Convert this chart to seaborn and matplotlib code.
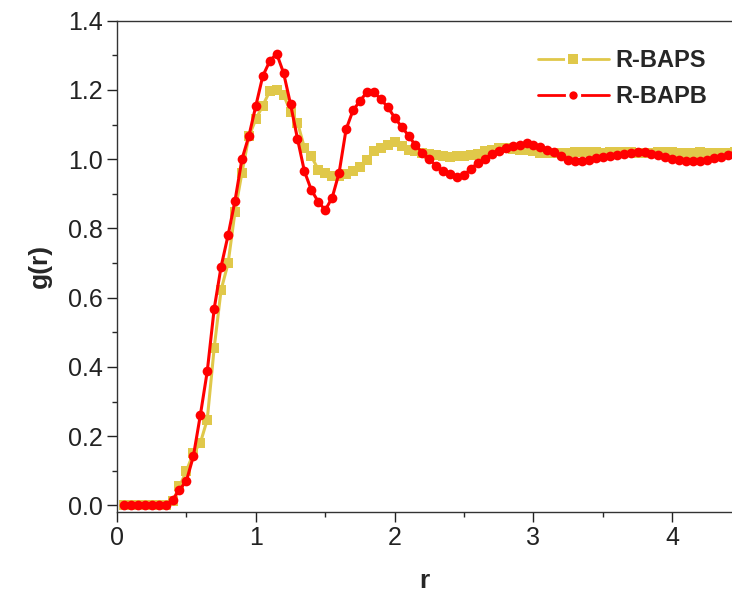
import numpy as np
import pandas as pd
import matplotlib
matplotlib.use("Agg")
import matplotlib.pyplot as plt
import seaborn as sns
from matplotlib.lines import Line2D
from matplotlib.legend_handler import HandlerTuple
from matplotlib.ticker import MultipleLocator, FormatStrFormatter

# ---- data ----
r = np.round(np.arange(0.05, 4.451, 0.05), 2)

g_baps = [0.0, 0.0, 0.0, 0.0, 0.0, 0.0, 0.0,
          0.012, 0.055, 0.100, 0.151, 0.180, 0.248, 0.455, 0.623, 0.699,
          0.848, 0.961, 1.066, 1.115, 1.155, 1.196, 1.200, 1.186, 1.137,
          1.106, 1.033, 1.008, 0.970, 0.960, 0.952, 0.951, 0.956, 0.965,
          0.977, 0.999, 1.023, 1.033, 1.042, 1.050, 1.038, 1.028, 1.023,
          1.019, 1.016, 1.013, 1.009, 1.006, 1.009, 1.010, 1.012, 1.016,
          1.023, 1.028, 1.033, 1.033, 1.030, 1.028, 1.026, 1.023, 1.019,
          1.017, 1.017, 1.018, 1.019, 1.021, 1.022, 1.021, 1.020, 1.019,
          1.020, 1.022, 1.021, 1.020, 1.019, 1.018, 1.019, 1.020, 1.021,
          1.020, 1.019, 1.018, 1.019, 1.020, 1.019, 1.018, 1.018, 1.019,
          1.020]

g_bapb = [0.0, 0.0, 0.0, 0.0, 0.0, 0.0, 0.0,
          0.016, 0.045, 0.071, 0.142, 0.260, 0.387, 0.568, 0.690, 0.780,
          0.880, 1.000, 1.067, 1.154, 1.240, 1.283, 1.305, 1.249, 1.159,
          1.059, 0.965, 0.911, 0.877, 0.853, 0.889, 0.961, 1.086, 1.141,
          1.168, 1.194, 1.194, 1.173, 1.151, 1.120, 1.094, 1.068, 1.040,
          1.019, 1.001, 0.980, 0.965, 0.956, 0.949, 0.955, 0.972, 0.990,
          1.000, 1.016, 1.025, 1.033, 1.038, 1.042, 1.047, 1.042, 1.036,
          1.028, 1.020, 1.008, 0.999, 0.994, 0.996, 0.999, 1.003, 1.006,
          1.009, 1.012, 1.015, 1.018, 1.021, 1.021, 1.016, 1.011, 1.006,
          1.001, 0.998, 0.996, 0.995, 0.996, 0.999, 1.003, 1.007, 1.011,
          1.014]

labels = ["R-BAPS", "R-BAPB"]
colors = ["#E0C84A", "#FF0000"]

# ---- style ----
sns.set_theme(style="ticks")
plt.rcParams["font.family"] = ["Liberation Sans", "DejaVu Sans"]
plt.rcParams["axes.linewidth"] = 1.0

fig = plt.figure(figsize=(7.32, 6.02), dpi=100)
ax = fig.add_axes([117 / 732, 1 - 511.7 / 602, 1 - 117 / 732, (511.7 - 20.7) / 602])

sns.lineplot(x=r, y=g_baps, ax=ax, color=colors[0], marker="s", markersize=6.5,
             markeredgewidth=0, linewidth=2.2, sort=False)
sns.lineplot(x=r, y=g_bapb, ax=ax, color=colors[1], marker="o", markersize=7,
             markeredgewidth=0, linewidth=2.2, sort=False)

ax.set_xlim(0, 4.43)
ax.set_ylim(-0.018, 1.4)
ax.xaxis.set_major_locator(MultipleLocator(1))
ax.xaxis.set_minor_locator(MultipleLocator(0.5))
ax.yaxis.set_major_locator(MultipleLocator(0.2))
ax.yaxis.set_minor_locator(MultipleLocator(0.1))
ax.yaxis.set_major_formatter(FormatStrFormatter("%.1f"))
ax.tick_params(which="major", direction="out", length=7, width=1.0,
               labelsize=18, colors="#222222", pad=3)
ax.tick_params(which="minor", direction="out", length=3.5, width=1.0)
ax.spines["right"].set_visible(False)
ax.spines["top"].set_visible(True)
for s in ["left", "bottom", "top"]:
    ax.spines[s].set_color("#333333")

ax.set_xlabel("r", fontsize=19, fontweight="bold", labelpad=14)
ax.set_ylabel("g(r)", fontsize=19, fontweight="bold", labelpad=12)

handles = []
for c, m, ms in zip(colors, ["s", "o"], [6.5, 6.0]):
    line_h = Line2D([], [], color=c, linewidth=2.0, linestyle="-")
    mark_h = Line2D([], [], color=c, marker=m, markersize=ms, linestyle="none",
                    markeredgecolor="white", markeredgewidth=5.0)
    mark_h2 = Line2D([], [], color=c, marker=m, markersize=ms, linestyle="none",
                     markeredgewidth=0)
    handles.append((line_h, mark_h, mark_h2))
ax.legend(handles, labels, loc="upper right", bbox_to_anchor=(0.995, 0.985),
          frameon=False, prop={"size": 17, "weight": "bold"},
          handlelength=3.0, handletextpad=0.3, labelspacing=0.55, numpoints=1,
          handler_map={tuple: HandlerTuple(ndivide=1)})

fig.savefig("out.png", dpi=100)
